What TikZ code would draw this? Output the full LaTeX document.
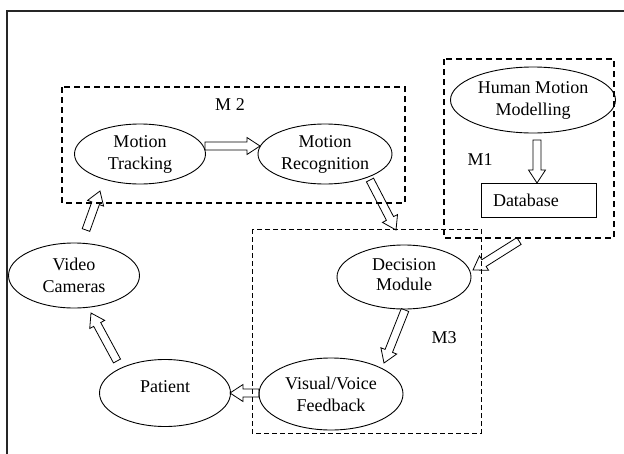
\documentclass[tikz,border=0pt]{standalone}
\usepackage{fontspec}
\setmainfont{Liberation Serif}
\usetikzlibrary{calc,shapes.geometric}
\newcommand{\zl}[1]{\makebox[0pt]{#1}}
\tikzset{
  ell/.style={draw, ellipse, inner sep=0pt, line width=0.9pt, align=center},
  grp/.style={draw, line width=1.5pt, dash pattern=on 6pt off 4pt},
  grpthin/.style={draw, line width=0.8pt, dash pattern=on 5pt off 3pt},
  lbl/.style={inner sep=0pt},
  hollow/.style={draw, line width=0.8pt, to path={
    let \p1=(\tikztostart), \p2=(\tikztotarget),
        \n1={atan2(\y2-\y1,\x2-\x1)}, \n2={veclen(\x2-\x1,\y2-\y1)},
        \n3={\n2-13pt} in
    {[shift={(\p1)}, rotate=\n1]
      (0pt,-4pt) -- (\n3,-4pt) -- (\n3,-8.5pt) -- (\n2,0pt)
      -- (\n3,8.5pt) -- (\n3,4pt) -- (0pt,4pt) -- cycle}}}
}
\begin{document}
\begin{tikzpicture}[x=1pt,y=-1pt,font=\fontsize{18}{22}\selectfont]
\useasboundingbox (0,0) rectangle (624,453);
\clip (0,0) rectangle (624,453);
\fill[white] (0,0) rectangle (624,453);
% outer frame
\draw[line width=1.4pt, black!85] (7,11) rectangle (660,480);
% group boxes
\draw[grp] (62,87) rectangle (405,203);
\draw[grp] (444,59) rectangle (614,238);
\draw[grpthin] (252,229) rectangle (481,433);
\node[lbl] (m2) at (230,105) {M 2};
\node[lbl] (m1) at (480,160) {M1};
\node[lbl] (m3) at (444,338) {M3};
% nodes
\node[ell, minimum width=131pt, minimum height=60pt] (mt) at (140,154) {\zl{Motion}\\\zl{Tracking}};
\node[ell, minimum width=134pt, minimum height=60pt] (mr) at (325,154) {\zl{Motion}\\\zl{Recognition}};
\node[ell, minimum width=165pt, minimum height=66pt] (hm) at (533,100) {\zl{Human Motion}\\\zl{Modelling}};
\node[draw, line width=0.9pt, rectangle, inner sep=0pt, minimum width=115pt, minimum height=34pt] (db) at (538.5,200) {\makebox[91pt][l]{Database}};
\node[ell, minimum width=134pt, minimum height=64pt] (dm) at (404,277) {\raisebox{5pt}{\shortstack{\zl{Decision}\\[4pt]\zl{Module}}}};
\node[ell, minimum width=131pt, minimum height=65pt] (vc) at (74,275.5) {\zl{Video}\\\zl{Cameras}};
\node[ell, minimum width=131pt, minimum height=67pt] (pt) at (165,393) {\raisebox{12pt}{\zl{Patient}}};
\node[ell, minimum width=144pt, minimum height=72pt] (vf) at (331,394) {\zl{Visual/Voice}\\\zl{Feedback}};
% arrow end points
\coordinate (mt-o) at (205,146);
\coordinate (mr-i) at (260,146);
\coordinate (mr-o) at (370,180);
\coordinate (dm-i) at (396,230);
\coordinate (m1-o) at (519,241);
\coordinate (dm-i2) at (473,270);
\coordinate (dm-o) at (405,310);
\coordinate (vf-i) at (384,363);
\coordinate (vf-o) at (259,393);
\coordinate (pt-i) at (230,393);
\coordinate (pt-o) at (117,361);
\coordinate (vc-i) at (91,313);
\coordinate (vc-o) at (86,230);
\coordinate (mt-i) at (100,191);
\coordinate (hm-o) at (537,140);
\coordinate (db-i) at (537,183);
% connectors
\draw[hollow] (mt-o) to (mr-i);
\draw[hollow] (mr-o) to (dm-i);
\draw[hollow] (m1-o) to (dm-i2);
\draw[hollow] (dm-o) to (vf-i);
\draw[hollow] (vf-o) to (pt-i);
\draw[hollow] (pt-o) to (vc-i);
\draw[hollow] (vc-o) to (mt-i);
\draw[hollow] (hm-o) to (db-i);
\end{tikzpicture}
\end{document}
